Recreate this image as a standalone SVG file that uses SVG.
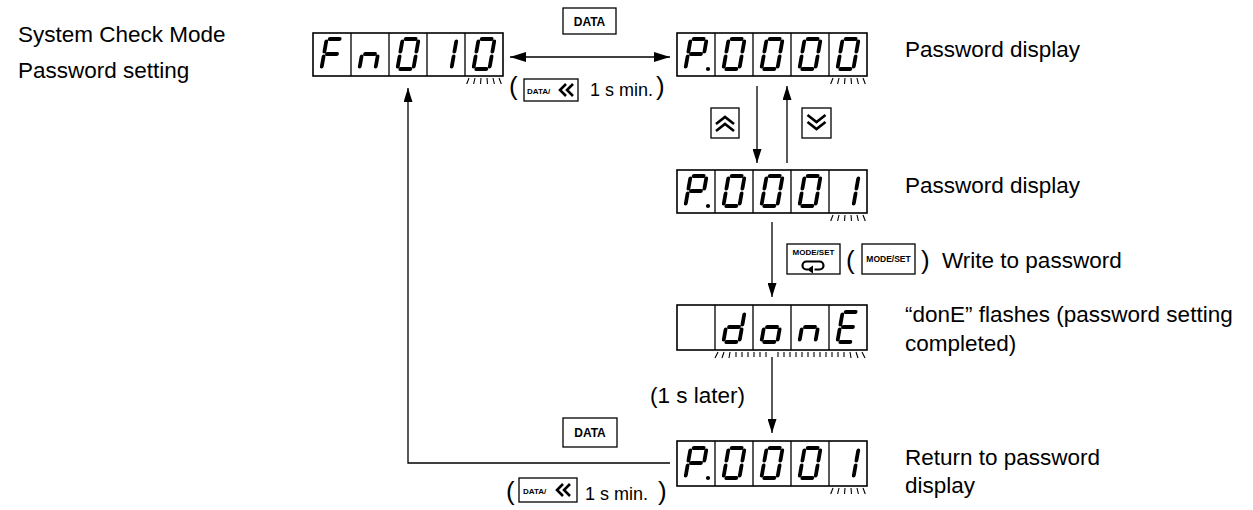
<svg xmlns="http://www.w3.org/2000/svg" width="1253" height="510" viewBox="0 0 1253 510">
<style>
.lbl{font-family:"Liberation Sans",Arial,sans-serif;font-size:22.5px;fill:#000}
.sm{font-family:"Liberation Sans",Arial,sans-serif;font-size:18px;fill:#000}
.par{font-family:"Liberation Sans",Arial,sans-serif;font-size:26px;fill:#000}
.btn{fill:#fff;stroke:#000;stroke-width:1.3}
.btxt{font-family:"Liberation Sans",Arial,sans-serif;font-weight:bold;fill:#000}
.box{fill:#fff;stroke:#000;stroke-width:1.6}
.dv{stroke:#000;stroke-width:1.3}
.seg{fill:none;stroke:#000;stroke-width:3.8;stroke-linecap:round;stroke-linejoin:round}
.glow line{stroke:#000;stroke-width:1.1}
.conn{fill:none;stroke:#000;stroke-width:1.3}
.chev{fill:none;stroke:#000;stroke-width:2.6}
</style>
<defs>
<marker id="ah" markerUnits="userSpaceOnUse" markerWidth="15" markerHeight="9" refX="14" refY="4.5" orient="auto-start-reverse"><path d="M0,0 L14,4.5 L0,9 z" fill="#000"/></marker>
<marker id="ahh" markerUnits="userSpaceOnUse" markerWidth="17" markerHeight="11" refX="16" refY="5" orient="auto-start-reverse"><path d="M0,0 L16,5 L0,10 z" fill="#000"/></marker>
<g id="c0" transform="skewX(-10)"><path class="seg" d="M-5,-15H5M8,-12.5V-2.5M8,2.5V12.5M-5,15H5M-8,2.5V12.5M-8,-12.5V-2.5"/></g>
<g id="c1" transform="skewX(-10)"><path class="seg" d="M8,-12.5V-2.5M8,2.5V12.5"/></g>
<g id="cF" transform="skewX(-10)"><path class="seg" d="M-5,-15H5M-8,-12.5V-2.5M-8,2.5V12.5M-5,0H5"/></g>
<g id="cn" transform="skewX(-10)"><path class="seg" d="M-5,0H5M-8,2.5V12.5M8,2.5V12.5"/></g>
<g id="cP" transform="skewX(-10)"><path class="seg" d="M-5,-15H5M8,-12.5V-2.5M-8,-12.5V-2.5M-8,2.5V12.5M-5,0H5"/></g>
<g id="cd" transform="skewX(-10)"><path class="seg" d="M8,-12.5V-2.5M8,2.5V12.5M-5,15H5M-8,2.5V12.5M-5,0H5"/></g>
<g id="co" transform="skewX(-10)"><path class="seg" d="M-5,0H5M8,2.5V12.5M-5,15H5M-8,2.5V12.5"/></g>
<g id="cE" transform="skewX(-10)"><path class="seg" d="M-5,-15H5M-8,-12.5V-2.5M-8,2.5V12.5M-5,15H5M-5,0H5"/></g>
<g id="glow1" class="glow">
<line x1="4" y1="2" x2="1.7" y2="8"/><line x1="10" y1="2" x2="8.6" y2="8"/><line x1="16" y1="2" x2="15.5" y2="8"/><line x1="22" y1="2" x2="22.5" y2="8"/><line x1="28" y1="2" x2="29.4" y2="8"/><line x1="34" y1="2" x2="36.3" y2="8"/>
</g>
</defs>

<g id="title">
<text class="lbl" x="18" y="42">System Check Mode</text>
<text class="lbl" x="18" y="78">Password setting</text>
</g>

<g id="node-fn010" aria-label="Fn010">
<rect class="box" x="313" y="33" width="190" height="43"/>
<path class="dv" d="M351,33V76M389,33V76M427,33V76M465,33V76"/>
<use href="#cF" x="332" y="54"/>
<use href="#cn" x="370" y="54"/>
<use href="#c0" x="408" y="54"/>
<use href="#c1" x="446" y="54"/>
<use href="#c0" x="484" y="54"/>
<use href="#glow1" x="465" y="76"/>
</g>

<g id="node-p0000" aria-label="P.0000">
<rect class="box" x="677" y="33" width="190" height="43"/>
<path class="dv" d="M715,33V76M753,33V76M791,33V76M829,33V76"/>
<use href="#cP" x="696" y="54"/>
<circle cx="708" cy="69" r="2.1"/>
<use href="#c0" x="734" y="54"/>
<use href="#c0" x="772" y="54"/>
<use href="#c0" x="810" y="54"/>
<use href="#c0" x="848" y="54"/>
<use href="#glow1" x="829" y="76"/>
<text class="lbl" x="905" y="57">Password display</text>
</g>

<g id="node-p0001" aria-label="P.0001">
<rect class="box" x="677" y="170" width="190" height="43"/>
<path class="dv" d="M715,170V213M753,170V213M791,170V213M829,170V213"/>
<use href="#cP" x="696" y="191"/>
<circle cx="708" cy="206" r="2.1"/>
<use href="#c0" x="734" y="191"/>
<use href="#c0" x="772" y="191"/>
<use href="#c0" x="810" y="191"/>
<use href="#c1" x="848" y="191"/>
<use href="#glow1" x="829" y="213"/>
<text class="lbl" x="905" y="193">Password display</text>
</g>

<g id="node-done" aria-label="donE">
<rect class="box" x="677" y="305" width="190" height="45"/>
<path class="dv" d="M715,305V350M753,305V350M791,305V350M829,305V350"/>
<use href="#cd" x="734" y="327"/>
<use href="#co" x="772" y="327"/>
<use href="#cn" x="810" y="327"/>
<use href="#cE" x="848" y="327"/>
<g class="glow">
<line x1="718" y1="352" x2="715" y2="358"/><line x1="724" y1="352" x2="722" y2="358"/><line x1="730" y1="352" x2="729" y2="358"/>
<line x1="736" y1="352" x2="736" y2="357"/><line x1="742" y1="352" x2="742" y2="357"/><line x1="748" y1="352" x2="748" y2="357"/><line x1="754" y1="352" x2="754" y2="357"/><line x1="760" y1="352" x2="760" y2="357"/><line x1="766" y1="352" x2="766" y2="357"/><line x1="778" y1="352" x2="778" y2="357"/><line x1="784" y1="352" x2="784" y2="357"/><line x1="790" y1="352" x2="790" y2="357"/><line x1="796" y1="352" x2="796" y2="357"/><line x1="802" y1="352" x2="802" y2="357"/><line x1="808" y1="352" x2="808" y2="357"/><line x1="814" y1="352" x2="814" y2="357"/><line x1="820" y1="352" x2="820" y2="357"/><line x1="826" y1="352" x2="826" y2="357"/><line x1="832" y1="352" x2="832" y2="357"/><line x1="838" y1="352" x2="838" y2="357"/><line x1="844" y1="352" x2="844" y2="357"/>
<line x1="850" y1="352" x2="851" y2="358"/><line x1="856" y1="352" x2="858" y2="358"/><line x1="862" y1="352" x2="865" y2="358"/>
</g>
<text class="lbl" x="905" y="322">“donE” flashes (password setting</text>
<text class="lbl" x="905" y="351">completed)</text>
</g>

<g id="node-p0001-return" aria-label="P.0001">
<rect class="box" x="677" y="441" width="190" height="45"/>
<path class="dv" d="M715,441V486M753,441V486M791,441V486M829,441V486"/>
<use href="#cP" x="696" y="463"/>
<circle cx="708" cy="478" r="2.1"/>
<use href="#c0" x="734" y="463"/>
<use href="#c0" x="772" y="463"/>
<use href="#c0" x="810" y="463"/>
<use href="#c1" x="848" y="463"/>
<use href="#glow1" x="829" y="486"/>
<text class="lbl" x="905" y="465">Return to password</text>
<text class="lbl" x="905" y="493">display</text>
</g>

<g id="connectors">
<path class="conn" d="M510,57H670" marker-start="url(#ahh)" marker-end="url(#ahh)"/>
<path class="conn" d="M757,86V163" marker-end="url(#ah)"/>
<path class="conn" d="M787,163V86" marker-end="url(#ah)"/>
<path class="conn" d="M772,222V297" marker-end="url(#ah)"/>
<path class="conn" d="M772,357V433" marker-end="url(#ah)"/>
<path class="conn" d="M670,463H408V88" marker-end="url(#ah)"/>
</g>

<g id="key-data-top">
<rect class="btn" x="563" y="8" width="53" height="26"/>
<text class="btxt" x="589.5" y="25.5" font-size="12" text-anchor="middle">DATA</text>
</g>
<g id="key-data-hold-top">
<text class="par" x="509" y="95">(</text>
<rect class="btn" x="524" y="79" width="54" height="22"/>
<text class="btxt" x="527" y="93.5" font-size="8">DATA/</text>
<path class="chev" d="M566,84L560,90L566,96M573,84L567,90L573,96"/>
<text class="sm" x="590" y="96">1 s min.</text>
<text class="par" x="656" y="95">)</text>
</g>
<g id="key-up">
<rect class="btn" x="711" y="108" width="28" height="30"/>
<path class="chev" d="M716,124L725,117L734,124M716,131L725,124L734,131"/>
</g>
<g id="key-down">
<rect class="btn" x="802" y="108" width="29" height="30"/>
<path class="chev" d="M807.5,115L816.5,122L825.5,115M807.5,122L816.5,129L825.5,122"/>
</g>
<g id="key-modeset">
<rect class="btn" x="787" y="244" width="53" height="30"/>
<text class="btxt" x="813.5" y="255" font-size="8" text-anchor="middle">MODE/SET</text>
<path fill="none" stroke="#000" stroke-width="2.2" d="M808,269.5h-1.5a4,4 0 0 1 0,-8h13a4,4 0 0 1 0,8h-5"/>
<path d="M807,269.5L813,265.5L813,273.5z" fill="#000"/>
<text class="par" x="846" y="269">(</text>
<rect class="btn" x="862" y="244" width="53" height="30"/>
<text class="btxt" x="888.5" y="262" font-size="8.5" text-anchor="middle">MODE/SET</text>
<text class="par" x="921" y="269">)</text>
<text class="lbl" x="942" y="268">Write to password</text>
</g>
<g id="label-later">
<text class="lbl" x="650" y="403">(1 s later)</text>
</g>
<g id="key-data-bottom">
<rect class="btn" x="563" y="418" width="54" height="29"/>
<text class="btxt" x="590" y="437" font-size="12" text-anchor="middle">DATA</text>
</g>
<g id="key-data-hold-bottom">
<text class="par" x="506" y="500">(</text>
<rect class="btn" x="519" y="478" width="58" height="24"/>
<text class="btxt" x="523" y="493.5" font-size="8">DATA/</text>
<path class="chev" d="M563,484L557,490L563,496M570,484L564,490L570,496"/>
<text class="sm" x="585" y="500">1 s min.</text>
<text class="par" x="658" y="500">)</text>
</g>
</svg>
